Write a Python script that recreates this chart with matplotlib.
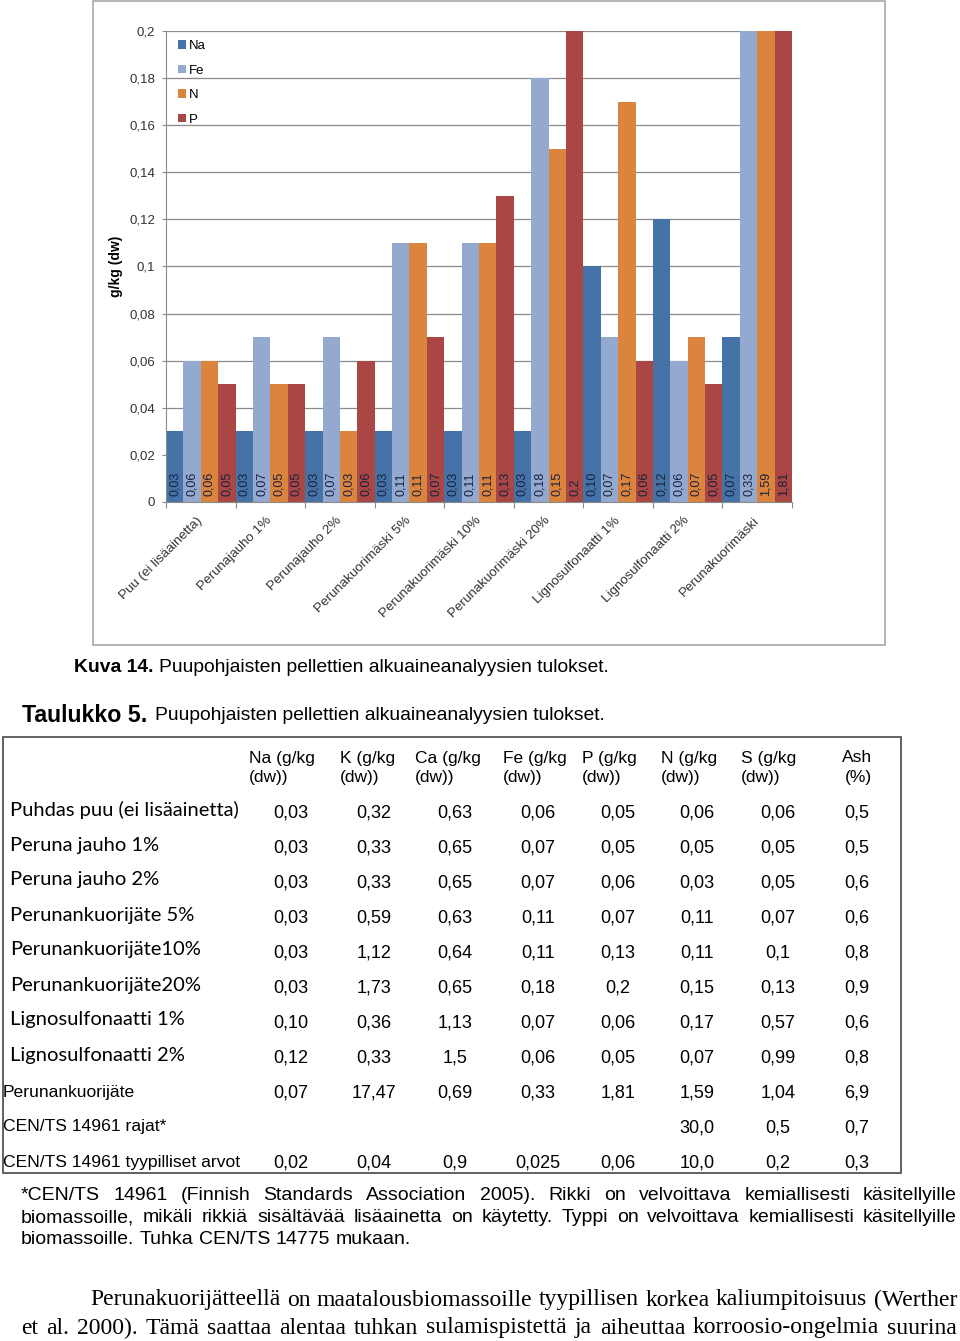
import numpy as np
import matplotlib
matplotlib.use("Agg")
import matplotlib.pyplot as plt
from matplotlib.patches import Rectangle

W, H = 960, 1341

# ---- data (table 5, values as printed) ----
row_labels = ["Puhdas puu (ei lisäainetta)", "Peruna jauho 1%", "Peruna jauho 2%",
              "Perunankuorijäte 5%", "Perunankuorijäte10%", "Perunankuorijäte20%",
              "Lignosulfonaatti 1%", "Lignosulfonaatti 2%", "Perunankuorijäte",
              "CEN/TS 14961 rajat*", "CEN/TS 14961 tyypilliset arvot"]
col_heads = [("Na (g/kg", "(dw))"), ("K (g/kg", "(dw))"), ("Ca (g/kg", "(dw))"),
             ("Fe (g/kg", "(dw))"), ("P (g/kg", "(dw))"), ("N (g/kg", "(dw))"),
             ("S (g/kg", "(dw))"), ("Ash", "(%)")]
na = ["0,03", "0,03", "0,03", "0,03", "0,03", "0,03", "0,10", "0,12", "0,07", "", "0,02"]
k = ["0,32", "0,33", "0,33", "0,59", "1,12", "1,73", "0,36", "0,33", "17,47", "", "0,04"]
ca = ["0,63", "0,65", "0,65", "0,63", "0,64", "0,65", "1,13", "1,5", "0,69", "", "0,9"]
fe = ["0,06", "0,07", "0,07", "0,11", "0,11", "0,18", "0,07", "0,06", "0,33", "", "0,025"]
p = ["0,05", "0,05", "0,06", "0,07", "0,13", "0,2", "0,06", "0,05", "1,81", "", "0,06"]
n = ["0,06", "0,05", "0,03", "0,11", "0,11", "0,15", "0,17", "0,07", "1,59", "30,0", "10,0"]
s = ["0,06", "0,05", "0,05", "0,07", "0,1", "0,13", "0,57", "0,99", "1,04", "0,5", "0,2"]
ash = ["0,5", "0,5", "0,6", "0,6", "0,8", "0,9", "0,6", "0,8", "6,9", "0,7", "0,3"]

# ---- chart (kuva 14) ----
categories = ["Puu (ei lisäainetta)", "Perunajauho 1%", "Perunajauho 2%",
              "Perunakuorimäski 5%", "Perunakuorimäski 10%", "Perunakuorimäski 20%",
              "Lignosulfonaatti 1%", "Lignosulfonaatti 2%", "Perunakuorimäski"]
series_names = ["Na", "Fe", "N", "P"]
series_text = [na[:9], fe[:9], n[:9], p[:9]]
series_colors = ["#4573a7", "#93a9cf", "#db843d", "#aa4643"]


def fx(px):
    return px / W


def fy(py):
    return 1 - py / H


def num(txt):
    return float(txt.replace(",", "."))


plt.rcParams["font.family"] = ["Liberation Sans", "DejaVu Sans"]
fig = plt.figure(figsize=(W / 100, H / 100), dpi=100)

ax = fig.add_axes([fx(166), fy(502), (792 - 166) / W, (502 - 31) / H])
x = np.arange(len(categories))
bw = 0.25
for i, (name, txt, col) in enumerate(zip(series_names, series_text, series_colors)):
    vals = [num(t) for t in txt]
    bars = ax.bar(x + i * bw, vals, width=bw, align="edge", color=col, label=name, zorder=2)
    for b, t in zip(bars, txt):
        ax.annotate(t, (b.get_x() + bw / 2, 0), xytext=(0, 4), textcoords="offset points",
                    rotation=90, ha="center", va="bottom", fontsize=9, color="#18223d",
                    zorder=3)

ax.set_xlim(0, len(categories))
ax.set_ylim(0, 0.2)
yt = np.arange(0, 0.2001, 0.02)
ax.set_yticks(yt)
ax.set_yticklabels([("%.2f" % v).rstrip("0").rstrip(".").replace(".", ",") for v in yt])
ax.yaxis.grid(True, color="#8a8a8a", lw=0.9, zorder=0)
ax.set_axisbelow(True)
ax.tick_params(axis="y", direction="out", length=3, color="#8a8a8a", labelsize=9.5,
               labelcolor="#333333", pad=5)
ax.set_xticks(np.arange(len(categories) + 1))
ax.set_xticklabels([])
ax.set_xticks(x + 0.5, minor=True)
ax.set_xticklabels(categories, minor=True, rotation=45, ha="right", va="center",
                   rotation_mode="anchor", fontsize=9.6, color="#333333")
ax.tick_params(axis="x", which="major", direction="out", length=4, color="#8a8a8a")
ax.tick_params(axis="x", which="minor", length=0, pad=12)
for sp in ["top", "right"]:
    ax.spines[sp].set_visible(False)
for sp in ["left", "bottom"]:
    ax.spines[sp].set_color("#8a8a8a")
ax.set_ylabel("g/kg (dw)", fontsize=10, fontweight="bold", labelpad=4)
ax.legend(loc="upper left", bbox_to_anchor=(0.005, 1.0), frameon=False, fontsize=9.5,
          handlelength=0.6, handleheight=0.6, handletextpad=0.2, labelspacing=0.95,
          borderaxespad=0.3)

fig.add_artist(Rectangle((fx(93), fy(645)), (885 - 93) / W, 644 / H, transform=fig.transFigure,
                         fill=False, ec="#a8a8a8", lw=1.2))

# ---- captions ----
fig.text(fx(74), fy(667), "Kuva 14.", fontsize=13.9, fontweight="bold", va="center")
fig.text(fx(159), fy(667), "Puupohjaisten pellettien alkuaineanalyysien tulokset.",
         fontsize=13.9, va="center")
fig.text(fx(22), fy(715), "Taulukko 5.", fontsize=16.7, fontweight="bold", va="center")
fig.text(fx(155), fy(715), "Puupohjaisten pellettien alkuaineanalyysien tulokset.",
         fontsize=13.9, va="center")

# ---- table ----
fig.add_artist(Rectangle((fx(3), fy(1173)), (901 - 3) / W, (1173 - 737) / H,
                         transform=fig.transFigure, fill=False, ec="#555555", lw=1.3))
head_x = [249, 340, 415, 503, 582, 661, 741, 872]
col_cx = [291, 374, 455, 538, 618, 697, 778, 857]
for j, (h1, h2) in enumerate(col_heads):
    ha = "right" if j == len(col_heads) - 1 else "left"
    fig.text(fx(head_x[j]), fy(758), h1, fontsize=12.5, ha=ha, va="center")
    fig.text(fx(head_x[j]), fy(778), h2, fontsize=12.5, ha=ha, va="center")

columns = [na, k, ca, fe, p, n, s, ash]
for r, lab in enumerate(row_labels):
    yy = 810 + 35 * r
    if r < 8:
        fig.text(fx(10), fy(yy), lab, fontsize=14.5, va="center", family=["Lato", "DejaVu Sans"])
    else:
        fig.text(fx(3), fy(yy + 2), lab, fontsize=12.6, va="center")
    for j, col in enumerate(columns):
        fig.text(fx(col_cx[j]), fy(yy + 3), col[r], fontsize=13, ha="center", va="center")

# ---- justified text below ----
renderer = fig.canvas.get_renderer()


def justify(words_line, x0, x1, y, justify_line=True, **kw):
    texts = [fig.text(0, fy(y), w, va="center", **kw) for w in words_line.split()]
    widths = [t.get_window_extent(renderer).width for t in texts]
    if justify_line and len(texts) > 1:
        gap = (x1 - x0 - sum(widths)) / (len(texts) - 1)
    else:
        sp = fig.text(0, 0, "a a", **kw)
        sp2 = fig.text(0, 0, "aa", **kw)
        gap = sp.get_window_extent(renderer).width - sp2.get_window_extent(renderer).width
        sp.remove()
        sp2.remove()
    pos = x0
    for t, w in zip(texts, widths):
        t.set_x(fx(pos))
        pos += w + gap


foot = dict(fontsize=14)
justify("*CEN/TS 14961 (Finnish Standards Association 2005). Rikki on velvoittava kemiallisesti käsitellyille",
        21, 957, 1196, **foot)
justify("biomassoille,  mikäli rikkiä sisältävää lisäainetta on käytetty. Typpi on velvoittava kemiallisesti käsitellyille",
        21, 957, 1218, **foot)
justify("biomassoille. Tuhka CEN/TS 14775 mukaan.", 21, 957, 1240, justify_line=False, **foot)

body = dict(fontsize=17, family=["Liberation Serif", "DejaVu Serif"])
justify("Perunakuorijätteellä on maatalousbiomassoille tyypillisen korkea kaliumpitoisuus (Werther",
        90, 957, 1300, **body)
justify("et al. 2000). Tämä saattaa alentaa tuhkan sulamispistettä ja aiheuttaa korroosio-ongelmia suurina",
        21, 957, 1328, **body)

fig.savefig("out.png", dpi=100)
